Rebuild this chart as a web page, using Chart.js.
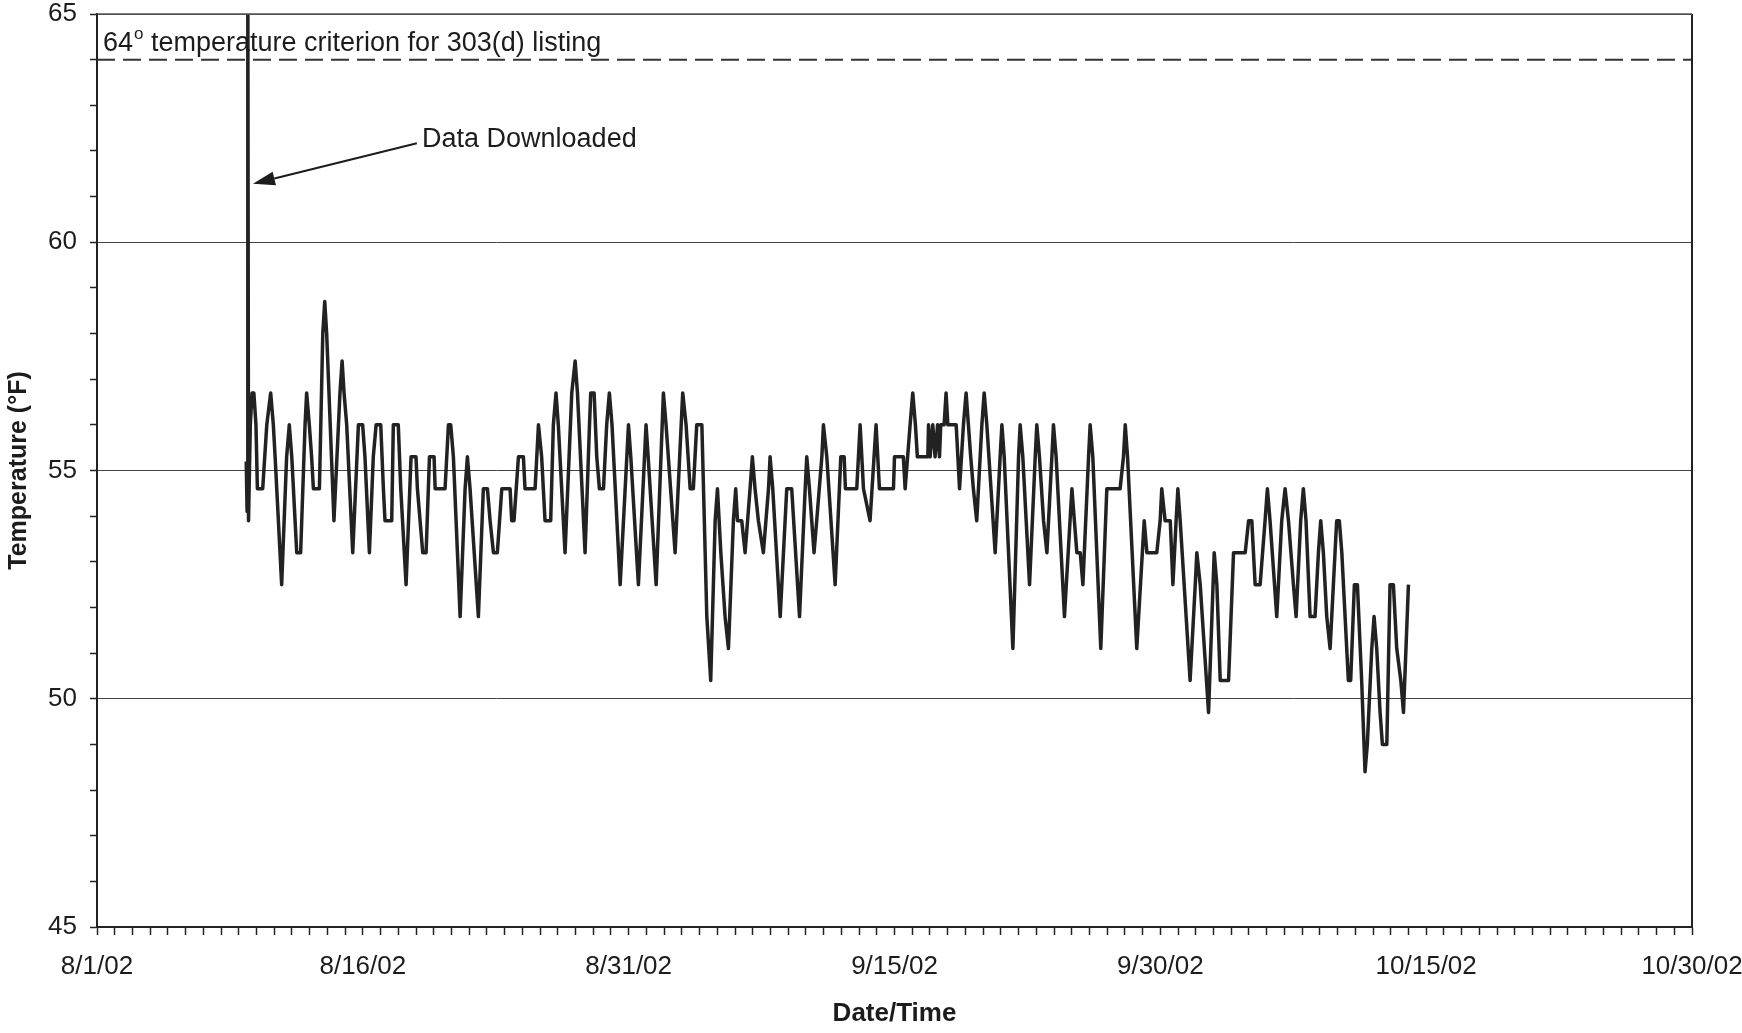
<!DOCTYPE html>
<html>
<head>
<meta charset="utf-8">
<script src="https://cdn.jsdelivr.net/npm/chart.js@4.4.1/dist/chart.umd.min.js"></script>
<style>
html,body{margin:0;padding:0;background:#fff;}
canvas{display:block;}
</style>
</head>
<body>
<canvas id="c" width="1742" height="1033"></canvas>
<script>
// ---- Data (x = days since 8/1/02 00:00) ----
const tickLabels = ['8/1/02', '8/16/02', '8/31/02', '9/15/02', '9/30/02', '10/15/02', '10/30/02'];
const tickEvery = 15;
const xMin = 0, xMax = 90;
const yMin = 45, yMax = 65;

const criterionValue = 64;
const criterionDays = [0, 90];

const days = [
  8.42, 8.47, 8.51, 8.55, 8.65, 8.75, 8.85, 8.97, 9.05, 9.35,
  9.58, 9.80, 9.95, 10.05, 10.42, 10.70, 10.85, 10.99, 11.27, 11.49,
  11.74, 11.83, 11.98, 12.11, 12.21, 12.55, 12.74, 12.85, 12.96, 13.37,
  13.71, 13.83, 13.94, 14.09, 14.43, 14.75, 14.99, 15.12, 15.37, 15.59,
  15.75, 16.01, 16.16, 16.25, 16.63, 16.72, 17.00, 17.14, 17.44, 17.72,
  18.00, 18.08, 18.38, 18.57, 18.76, 19.02, 19.08, 19.64, 19.83, 19.96,
  20.11, 20.49, 20.77, 20.90, 21.05, 21.52, 21.80, 22.03, 22.18, 22.37,
  22.59, 22.84, 23.31, 23.40, 23.53, 23.78, 24.06, 24.15, 24.72, 24.91,
  25.09, 25.28, 25.60, 25.75, 25.90, 26.03, 26.41, 26.79, 26.98, 27.11,
  27.54, 27.79, 27.86, 28.05, 28.20, 28.35, 28.58, 28.76, 28.91, 29.06,
  29.52, 29.99, 30.12, 30.55, 30.98, 31.10, 31.55, 31.96, 32.11, 32.62,
  33.05, 33.24, 33.47, 33.65, 33.84, 34.13, 34.41, 34.63, 34.88, 35.01,
  35.20, 35.44, 35.63, 35.91, 36.04, 36.14, 36.38, 36.57, 36.85, 36.98,
  37.13, 37.32, 37.60, 37.89, 37.98, 38.13, 38.55, 38.92, 39.20, 39.64,
  39.96, 40.05, 40.20, 40.46, 40.61, 40.90, 40.99, 41.18, 41.65, 41.97,
  42.16, 42.23, 42.87, 43.06, 43.25, 43.62, 43.96, 44.15, 44.94, 45.00,
  45.50, 45.60, 45.88, 46.03, 46.18, 46.29, 46.88, 46.92, 47.01, 47.16,
  47.29, 47.43, 47.54, 47.61, 47.80, 47.91, 48.01, 48.48, 48.67, 48.89,
  49.04, 49.17, 49.30, 49.45, 49.64, 49.93, 50.06, 50.21, 50.68, 50.96,
  51.06, 51.19, 51.68, 52.00, 52.09, 52.24, 52.62, 52.94, 53.03, 53.18,
  53.41, 53.60, 53.88, 53.97, 54.12, 54.59, 55.01, 55.29, 55.48, 55.63,
  55.95, 56.04, 56.19, 56.64, 56.98, 57.73, 57.92, 58.02, 58.15, 58.67,
  59.09, 59.24, 59.80, 59.99, 60.08, 60.27, 60.56, 60.71, 60.89, 60.99,
  61.12, 61.68, 61.97, 62.06, 62.25, 62.72, 63.04, 63.19, 63.38, 63.85,
  64.13, 64.79, 64.98, 65.16, 65.35, 65.63, 65.91, 66.04, 66.19, 66.57,
  66.85, 67.04, 67.23, 67.51, 67.66, 67.92, 68.07, 68.22, 68.45, 68.73,
  68.92, 69.05, 69.20, 69.39, 69.58, 69.95, 70.10, 70.24, 70.61, 70.74,
  70.95, 71.12, 71.36, 71.55, 71.68, 71.93, 72.06, 72.21, 72.40, 72.53,
  72.78, 72.96, 73.15, 73.34, 73.57, 73.72, 74.00
];

const temps = [
  55.2, 54.1, 66.0, 53.9, 56.0, 56.7, 56.7, 56.0, 54.6, 54.6,
  56.0, 56.7, 56.0, 55.3, 52.5, 55.3, 56.0, 55.3, 53.2, 53.2,
  56.0, 56.7, 56.0, 55.3, 54.6, 54.6, 58.0, 58.7, 58.0, 53.9,
  56.7, 57.4, 56.7, 56.0, 53.2, 56.0, 56.0, 55.3, 53.2, 55.3,
  56.0, 56.0, 54.6, 53.9, 53.9, 56.0, 56.0, 54.6, 52.5, 55.3,
  55.3, 54.6, 53.2, 53.2, 55.3, 55.3, 54.6, 54.6, 56.0, 56.0,
  55.3, 51.8, 54.6, 55.3, 54.6, 51.8, 54.6, 54.6, 53.9, 53.2,
  53.2, 54.6, 54.6, 53.9, 53.9, 55.3, 55.3, 54.6, 54.6, 56.0,
  55.3, 53.9, 53.9, 56.0, 56.7, 56.0, 53.2, 56.7, 57.4, 56.7,
  53.2, 56.0, 56.7, 56.7, 55.3, 54.6, 54.6, 56.0, 56.7, 56.0,
  52.5, 56.0, 55.3, 52.5, 56.0, 55.3, 52.5, 56.7, 56.0, 53.2,
  56.7, 56.0, 54.6, 54.6, 56.0, 56.0, 51.8, 50.4, 53.9, 54.6,
  53.2, 51.8, 51.1, 53.9, 54.6, 53.9, 53.9, 53.2, 54.6, 55.3,
  54.6, 53.9, 53.2, 54.6, 55.3, 54.6, 51.8, 54.6, 54.6, 51.8,
  54.6, 55.3, 54.6, 53.2, 53.9, 55.3, 56.0, 55.3, 52.5, 55.3,
  55.3, 54.6, 54.6, 56.0, 54.6, 53.9, 56.0, 54.6, 54.6, 55.3,
  55.3, 54.6, 56.0, 56.7, 56.0, 55.3, 55.3, 56.0, 55.3, 56.0,
  55.3, 56.0, 55.3, 56.0, 56.0, 56.7, 56.0, 56.0, 54.6, 56.0,
  56.7, 56.0, 55.3, 54.6, 53.9, 56.0, 56.7, 56.0, 53.2, 55.3,
  56.0, 55.3, 51.1, 55.3, 56.0, 55.3, 52.5, 55.3, 56.0, 55.3,
  53.9, 53.2, 55.3, 56.0, 55.3, 51.8, 54.6, 53.2, 53.2, 52.5,
  55.3, 56.0, 55.3, 51.1, 54.6, 54.6, 55.3, 56.0, 55.3, 51.1,
  53.9, 53.2, 53.2, 53.9, 54.6, 53.9, 53.9, 52.5, 53.9, 54.6,
  53.9, 50.4, 52.5, 53.2, 52.5, 49.7, 53.2, 52.5, 50.4, 50.4,
  53.2, 53.2, 53.9, 53.9, 52.5, 52.5, 53.9, 54.6, 53.9, 51.8,
  53.9, 54.6, 53.9, 52.5, 51.8, 53.9, 54.6, 53.9, 51.8, 51.8,
  53.2, 53.9, 53.2, 51.8, 51.1, 53.9, 53.9, 53.2, 50.4, 50.4,
  52.5, 52.5, 50.4, 48.4, 49.0, 51.1, 51.8, 51.1, 49.7, 49.0,
  49.0, 52.5, 52.5, 51.1, 50.4, 49.7, 52.5
];

// ---- Annotation anchors (data coordinates) ----
const critText = ' temperature criterion for 303(d) listing';
const critLabelAt = { x: 0.34, y: 64.36 };
const dlText = 'Data Downloaded';
const dlLabelAt = { x: 18.34, y: 62.24 };
const dlArrowFrom = { x: 18.05, y: 62.17 };
const dlArrowTo = { x: 8.8, y: 61.28 };

const FONT = '"Liberation Sans", Arial, Helvetica, sans-serif';
const INK = '#1c1c1c';

const annotPlugin = {
  id: 'annot',
  afterDatasetsDraw(chart) {
    const { ctx, chartArea: ca, scales: { x, y } } = chart;
    ctx.save();
    // right frame line
    ctx.strokeStyle = '#222';
    ctx.lineWidth = 2;
    ctx.beginPath();
    ctx.moveTo(ca.right, ca.top);
    ctx.lineTo(ca.right, ca.bottom);
    ctx.stroke();
    // top frame line
    ctx.strokeStyle = '#555';
    ctx.lineWidth = 1.5;
    ctx.beginPath();
    ctx.moveTo(ca.left, ca.top);
    ctx.lineTo(ca.right, ca.top);
    ctx.stroke();

    // criterion label with superscript degree "o"
    ctx.fillStyle = INK;
    ctx.textBaseline = 'middle';
    ctx.textAlign = 'left';
    let tx = x.getPixelForValue(critLabelAt.x);
    const ty = y.getPixelForValue(critLabelAt.y);
    ctx.font = '27px ' + FONT;
    const num = String(criterionValue);
    ctx.fillText(num, tx, ty);
    tx += ctx.measureText(num).width + 1;
    ctx.font = '17px ' + FONT;
    ctx.fillText('o', tx, ty - 9);
    tx += ctx.measureText('o').width;
    ctx.font = '27px ' + FONT;
    ctx.fillText(critText, tx, ty);

    // Data Downloaded label
    ctx.fillText(dlText, x.getPixelForValue(dlLabelAt.x), y.getPixelForValue(dlLabelAt.y));

    // arrow
    const x1 = x.getPixelForValue(dlArrowFrom.x), y1 = y.getPixelForValue(dlArrowFrom.y);
    const x2 = x.getPixelForValue(dlArrowTo.x), y2 = y.getPixelForValue(dlArrowTo.y);
    const ang = Math.atan2(y2 - y1, x2 - x1);
    const headLen = 22, headW = 7;
    const bx = x2 - headLen * Math.cos(ang), by = y2 - headLen * Math.sin(ang);
    ctx.strokeStyle = INK;
    ctx.lineWidth = 2;
    ctx.beginPath();
    ctx.moveTo(x1, y1);
    ctx.lineTo(bx, by);
    ctx.stroke();
    ctx.beginPath();
    ctx.moveTo(x2, y2);
    ctx.lineTo(bx + headW * Math.sin(ang), by - headW * Math.cos(ang));
    ctx.lineTo(bx - headW * Math.sin(ang), by + headW * Math.cos(ang));
    ctx.closePath();
    ctx.fillStyle = INK;
    ctx.fill();
    ctx.restore();
  }
};

const series = days.map((d, i) => ({ x: d, y: temps[i] }));
const critLine = criterionDays.map(d => ({ x: d, y: criterionValue }));

new Chart(document.getElementById('c'), {
  type: 'line',
  data: {
    datasets: [
      {
        label: 'Temperature',
        data: series,
        borderColor: '#222',
        borderWidth: 3.5,
        pointRadius: 0,
        tension: 0,
        fill: false,
        borderJoinStyle: 'round',
        borderCapStyle: 'butt'
      },
      {
        label: '64 criterion',
        data: critLine,
        borderColor: '#333',
        borderWidth: 2,
        borderDash: [18, 8],
        pointRadius: 0,
        fill: false
      }
    ]
  },
  options: {
    responsive: false,
    devicePixelRatio: 1,
    animation: false,
    layout: { padding: { top: 14, right: 50, left: 0, bottom: 0 } },
    plugins: { legend: { display: false }, tooltip: { enabled: false } },
    scales: {
      x: {
        type: 'linear',
        min: xMin,
        max: xMax,
        afterFit(s) { s.height = 106; s.paddingLeft = 0; s.paddingRight = 0; },
        ticks: {
          stepSize: 1,
          autoSkip: false,
          maxRotation: 0,
          padding: 19,
          color: INK,
          font: { family: FONT, size: 26, lineHeight: 1 },
          callback: v => (v % tickEvery === 0 ? tickLabels[v / tickEvery] : '')
        },
        grid: {
          drawOnChartArea: false,
          tickLength: 8,
          tickColor: '#222',
          tickWidth: 1.5
        },
        border: { display: true, color: '#222', width: 2 },
        title: {
          display: true,
          text: 'Date/Time',
          color: INK,
          font: { family: FONT, size: 26, weight: 'bold' },
          padding: { top: 0, bottom: 4 }
        }
      },
      y: {
        min: yMin,
        max: yMax,
        afterFit(s) { s.width = 97; s.paddingTop = 0; s.paddingBottom = 0; },
        ticks: {
          stepSize: 1,
          autoSkip: false,
          padding: 13,
          color: INK,
          font: { family: FONT, size: 26, lineHeight: 1 },
          callback: v => (v % 5 === 0 ? v : '')
        },
        grid: {
          drawOnChartArea: true,
          color: c => (c.tick && c.tick.value % 5 === 0 ? '#444' : 'rgba(0,0,0,0)'),
          lineWidth: 1,
          tickLength: 7,
          tickColor: '#222',
          tickWidth: 1.5
        },
        border: { display: true, color: '#222', width: 2 },
        title: {
          display: true,
          text: 'Temperature (°F)',
          color: INK,
          font: { family: FONT, size: 25, weight: 'bold' },
          padding: { top: 4, bottom: 0 }
        }
      }
    }
  },
  plugins: [annotPlugin]
});
</script>
</body>
</html>
